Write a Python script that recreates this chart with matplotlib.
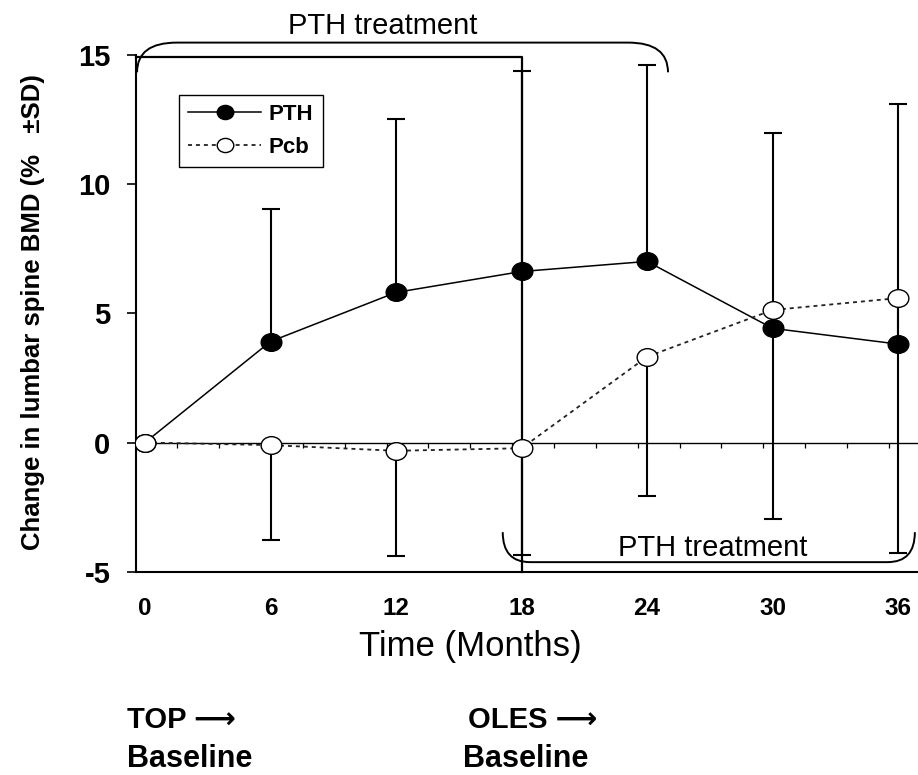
import numpy as np
import matplotlib
matplotlib.use('Agg')
import matplotlib.pyplot as plt
from matplotlib.path import Path
from matplotlib.patches import PathPatch

# data (% change in lumbar spine BMD)
months = [0, 6, 12, 18, 24, 30, 36]
pth_mean = [0.0, 3.91, 5.81, 6.62, 7.01, 4.42, 3.81]
pth_sd = [0.0, 5.12, 6.70, 7.76, 7.62, 7.58, 9.28]
pcb_mean = [0.0, -0.10, -0.32, -0.22, 3.32, 5.13, 5.59]
pcb_sd = [0.0, 3.67, 4.08, 4.12, 5.40, 8.09, 9.85]

y_ticks = [-5, 0, 5, 10, 15]
x_ticks = months

plt.rcParams['font.family'] = ['Liberation Sans', 'DejaVu Sans']
plt.rcParams['axes.unicode_minus'] = False

W, H = 918, 775
fig = plt.figure(figsize=(W / 100, H / 100), dpi=100)
ax = fig.add_axes([136 / W, 1 - 571.7 / H, (W - 136) / W, (571.7 - 55) / H])
ax.set_xlim(-0.43, 36.95)
ax.set_ylim(-5, 15)

# slightly wide ellipse marker, like the original
circ = Path.unit_circle()
ellipse = Path(circ.vertices * np.array([1.17, 1.0]), circ.codes)

# spines / ticks
for s in ['top', 'right']:
    ax.spines[s].set_visible(False)
ax.spines['left'].set_linewidth(1.5)
ax.spines['bottom'].set_linewidth(1.5)
ax.set_yticks(y_ticks)
ax.set_xticks(x_ticks)
ax.tick_params(axis='y', direction='out', length=6.5, width=1.2, pad=12,
               labelsize=21)
ax.tick_params(axis='x', length=0, pad=18, labelsize=17.5)
for lab in ax.get_xticklabels() + ax.get_yticklabels():
    lab.set_fontweight('bold')

# zero line with its small ticks
ax.axhline(0, color='black', lw=1.0, zorder=1)
zero_ticks = np.arange(1.55, 36.5, 2.0)
ax.vlines(zero_ticks, -0.2, 0, color='black', lw=0.9, zorder=1)

# box around the first 18 months
ax.plot([-0.43, 18, 18], [14.92, 14.92, -5], color='black', lw=1.6,
        clip_on=False, zorder=2)

# error bars (PTH up, Pcb down)
m = np.array(months[1:])
ax.errorbar(m, pth_mean[1:], yerr=[np.zeros(len(m)), pth_sd[1:]], fmt='none',
            ecolor='black', elinewidth=1.5, capsize=6.5, capthick=1.5, zorder=2)
ax.errorbar(m, pcb_mean[1:], yerr=[pcb_sd[1:], np.zeros(len(m))], fmt='none',
            ecolor='black', elinewidth=1.5, capsize=6.5, capthick=1.5, zorder=4)

ax.plot(months, pth_mean, color='black', lw=1.1, marker=ellipse, ms=14.9,
        mfc='black', mec='black', mew=1.0, label='PTH', zorder=3)
ax.plot(months, pcb_mean, color='#222222', lw=1.3, ls=(0, (2.2, 2.2)),
        marker=ellipse, ms=14.9, mfc='white', mec='black', mew=1.0,
        label='Pcb', zorder=5)

# treatment brackets
def bracket(x0, x1, y_end, y_line, rx):
    verts = [(x0, y_end), (x0, y_line), (x0 + rx, y_line),
             (x1 - rx, y_line), (x1, y_line), (x1, y_end)]
    codes = [Path.MOVETO, Path.CURVE3, Path.CURVE3,
             Path.LINETO, Path.CURVE3, Path.CURVE3]
    ax.add_patch(PathPatch(Path(verts, codes), fill=False, ec='black',
                           lw=1.4, clip_on=False, zorder=2))

bracket(-0.38, 25.0, 14.33, 15.48, 1.9)
bracket(17.1, 36.8, -3.47, -4.63, 1.3)

ax.text(11.36, 15.82, 'PTH treatment', ha='center', va='baseline',
        fontsize=21, clip_on=False)
ax.text(27.13, -4.39, 'PTH treatment', ha='center', va='baseline',
        fontsize=21)

leg = ax.legend(loc='upper left', bbox_to_anchor=(179 / W, 1 - 95 / H),
                bbox_transform=fig.transFigure, borderaxespad=0,
                fancybox=False, edgecolor='black', framealpha=1,
                prop={'size': 16, 'weight': 'bold'}, handlelength=3.3,
                handletextpad=0.35, borderpad=0.4, labelspacing=0.55,
                markerscale=0.8, numpoints=1)
leg.get_frame().set_linewidth(1.0)

# labels
fig.text(33 / W, 1 - 312 / H, 'Change in lumbar spine BMD (%   \u00b1SD)',
         rotation=90, ha='center', va='center', fontsize=18.5, fontweight='bold')
fig.text(470.8 / W, 1 - 656 / H, 'Time (Months)', ha='center', va='baseline',
         fontsize=25)
fig.text(126.7 / W, 1 - 728.3 / H, 'TOP \u27f6', ha='left', va='baseline',
         fontsize=21, fontweight='bold')
fig.text(468.3 / W, 1 - 728.3 / H, 'OLES \u27f6', ha='left', va='baseline',
         fontsize=21, fontweight='bold')
fig.text(126.7 / W, 1 - 767 / H, 'Baseline', ha='left', va='baseline',
         fontsize=22, fontweight='bold')
fig.text(463.3 / W, 1 - 767 / H, 'Baseline', ha='left', va='baseline',
         fontsize=22, fontweight='bold')

fig.savefig('out.png', dpi=100)
